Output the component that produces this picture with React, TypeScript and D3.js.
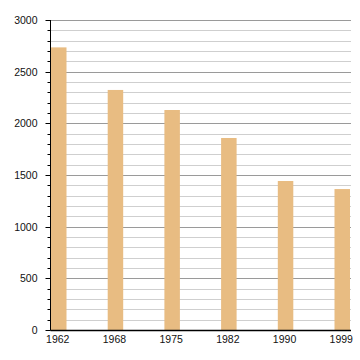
import React from "react";
import * as d3 from "d3";

const years = ["1962", "1968", "1975", "1982", "1990", "1999"];
const population = [2735, 2323, 2129, 1858, 1442, 1364];
const yTicks = [0, 500, 1000, 1500, 2000, 2500, 3000];

const W = 360;
const H = 360;
const left = 50.5;
const right = 351;
const top = 20;
const bottom = 330;

export default function App() {
  const y = d3.scaleLinear().domain([0, 3000]).range([bottom, top]);
  const x = d3.scaleLinear().domain([0, years.length - 1]).range([51, 334.5]);
  const barW = 15.5;
  const minor = d3.range(0, 3001, 100);
  return (
    <svg
      width={W}
      height={H}
      style={{ position: "absolute", left: 0, top: 0 }}
      fontFamily="Liberation Sans, Arial, sans-serif"
    >
      <rect width={W} height={H} fill="#fff" />
      {minor.map((v) => (
        <line
          key={"g" + v}
          x1={left}
          x2={right}
          y1={Math.round(y(v)) + 0.5}
          y2={Math.round(y(v)) + 0.5}
          stroke={v % 500 === 0 ? "#9a9a9a" : "#cfcfcf"}
          strokeWidth={1}
        />
      ))}
      {minor.map((v) => (
        <line
          key={"t" + v}
          x1={v % 500 === 0 ? left - 5 : left - 3}
          x2={left}
          y1={Math.round(y(v)) + 0.5}
          y2={Math.round(y(v)) + 0.5}
          stroke="#000"
          strokeWidth={1}
        />
      ))}
      {population.map((v, i) => (
        <rect
          key={"b" + i}
          x={x(i)}
          y={y(v)}
          width={barW}
          height={bottom - y(v)}
          fill="#e8bc82"
        />
      ))}
      <line x1={left} x2={left} y1={top} y2={bottom + 0.5} stroke="#000" strokeWidth={1} />
      <line x1={left} x2={right} y1={bottom + 0.5} y2={bottom + 0.5} stroke="#000" strokeWidth={1.5} />
      {yTicks.map((v) => (
        <text
          key={"yl" + v}
          x={37.5}
          y={y(v) + 4}
          textAnchor="end"
          fontSize={10.5}
          fill="#111"
        >
          {v}
        </text>
      ))}
      {years.map((yr, i) => (
        <text
          key={"xl" + yr}
          x={x(i) + barW / 2 - 1}
          y={342.5}
          textAnchor="middle"
          fontSize={10.5}
          fill="#111"
        >
          {yr}
        </text>
      ))}
    </svg>
  );
}
